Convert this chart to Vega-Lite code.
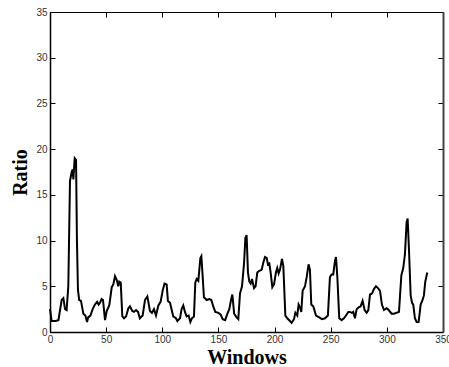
{
  "$schema": "https://vega.github.io/schema/vega-lite/v6.json",
  "width": 393,
  "height": 320,
  "autosize": "none",
  "padding": {"left": 50, "top": 12, "right": 6, "bottom": 35},
  "background": "white",
  "config": {
    "view": {"stroke": null},
    "axis": {
      "grid": false,
      "domainColor": "black",
      "domainWidth": 1.5,
      "tickColor": "black",
      "tickSize": -5,
      "labelFont": "Liberation Sans",
      "labelFontSize": 10,
      "labelColor": "#333",
      "titleFont": "Liberation Serif",
      "titleFontSize": 20,
      "titleFontWeight": "bold",
      "titleColor": "black"
    }
  },
  "data": {"values": [
    {"w":0,"r":2.5},{"w":1.5,"r":1.2},{"w":5,"r":1.2},{"w":7.5,"r":1.3},{"w":10.4,"r":3.5},{"w":11.9,"r":3.7},{"w":13.4,"r":2.5},{"w":14.8,"r":2.4},{"w":16.3,"r":5},{"w":17.8,"r":16.5},{"w":19.3,"r":17.5},{"w":20.2,"r":17.8},{"w":20.8,"r":16.7},{"w":22,"r":19.0},{"w":23.2,"r":18.8},{"w":24,"r":10},{"w":24.9,"r":4.6},{"w":26,"r":3.5},{"w":27.6,"r":3.4},
    {"w":29.7,"r":2.0},{"w":31.5,"r":1.8},{"w":33,"r":1.1},{"w":34,"r":1.6},{"w":36,"r":1.8},{"w":38,"r":2.5},{"w":40,"r":3.0},{"w":42,"r":3.3},{"w":43.3,"r":3.0},{"w":44.5,"r":3.2},{"w":46,"r":3.6},{"w":47.2,"r":3.5},{"w":49,"r":1.3},{"w":50.5,"r":2.3},{"w":52.8,"r":2.9},{"w":55,"r":4.9},{"w":56.4,"r":5.2},{"w":57.9,"r":6.1},{"w":59.4,"r":5.7},{"w":60.8,"r":5.0},{"w":61.7,"r":5.5},{"w":63,"r":5.4},{"w":64.4,"r":1.7},{"w":65.9,"r":1.5},{"w":67.7,"r":1.7},{"w":69.8,"r":2.6},{"w":71.2,"r":2.8},{"w":73.3,"r":2.3},{"w":74.8,"r":2.2},{"w":76.6,"r":2.4},{"w":78.4,"r":2.2},{"w":80,"r":1.5},{"w":82.5,"r":1.8},{"w":84.6,"r":3.5},{"w":86.7,"r":3.9},{"w":89,"r":2.3},{"w":90.8,"r":2.1},{"w":92.6,"r":2.5},{"w":94.4,"r":1.8},{"w":96.5,"r":2.9},{"w":98.5,"r":3.3},{"w":100.3,"r":4.5},{"w":102,"r":5.3},{"w":103.9,"r":5.2},{"w":105,"r":3.4},{"w":106.9,"r":3.2},{"w":108.6,"r":2.3},{"w":109.8,"r":1.7},{"w":112.2,"r":1.5},{"w":113.4,"r":1.2},{"w":115.8,"r":1.5},{"w":117.2,"r":2.5},{"w":118.7,"r":2.9},{"w":120.2,"r":2.2},{"w":121.7,"r":1.7},{"w":123.5,"r":1.8},{"w":125,"r":1.1},{"w":126.4,"r":1.5},{"w":128.2,"r":1.7},{"w":129.4,"r":5.4},{"w":130.6,"r":5.8},{"w":132.1,"r":5.6},{"w":133.9,"r":8.1},{"w":134.8,"r":8.3},{"w":136,"r":6.0},{"w":137.1,"r":3.8},{"w":139.5,"r":3.5},{"w":141.9,"r":3.6},{"w":143.7,"r":3.5},{"w":145.4,"r":2.8},{"w":147.2,"r":2.2},{"w":150,"r":2.1},{"w":152,"r":1.9},{"w":153.8,"r":1.4},{"w":156,"r":1.3},{"w":158,"r":2.0},{"w":159.7,"r":2.5},{"w":161.2,"r":3.5},{"w":162.4,"r":4.1},{"w":164,"r":2.0},{"w":166.2,"r":1.6},{"w":167.7,"r":1.4},{"w":169.2,"r":4.2},{"w":171,"r":5.0},{"w":172.8,"r":7.5},{"w":174,"r":10.3},{"w":175.1,"r":10.6},{"w":176.3,"r":6.5},{"w":177.5,"r":5.5},{"w":178.7,"r":5.3},{"w":179.9,"r":5.8},{"w":181.7,"r":4.8},{"w":183.1,"r":5.0},{"w":184.6,"r":6.5},{"w":186.4,"r":6.7},{"w":188.5,"r":6.8},{"w":190,"r":7.6},{"w":191.5,"r":8.2},{"w":193,"r":8.1},{"w":194.1,"r":7.4},{"w":195.3,"r":7.5},{"w":196.5,"r":6.5},{"w":198,"r":4.9},{"w":199.5,"r":5.2},{"w":201.2,"r":6.5},{"w":202.4,"r":7.0},{"w":203.6,"r":6.4},{"w":204.8,"r":6.8},{"w":206.6,"r":8.0},{"w":207.8,"r":7.2},{"w":209.6,"r":1.8},{"w":211.3,"r":1.5},{"w":213.7,"r":1.2},{"w":215.2,"r":1.0},{"w":217.3,"r":1.4},{"w":218.5,"r":2.1},{"w":220.2,"r":1.8},{"w":221.4,"r":3.0},{"w":222.6,"r":2.7},{"w":223.8,"r":2.2},{"w":225,"r":4.5},{"w":227.1,"r":5.0},{"w":228.6,"r":6.0},{"w":230.3,"r":7.4},{"w":231.5,"r":6.8},{"w":232.7,"r":3.0},{"w":234.5,"r":2.8},{"w":236.9,"r":1.8},{"w":239.8,"r":1.6},{"w":242.2,"r":1.4},{"w":244.9,"r":1.5},{"w":247.5,"r":1.8},{"w":249.3,"r":6.0},{"w":250.8,"r":6.3},{"w":252.3,"r":6.3},{"w":253.8,"r":7.8},{"w":254.7,"r":8.2},{"w":255.9,"r":6.0},{"w":257.6,"r":1.5},{"w":259.7,"r":1.3},{"w":261.8,"r":1.5},{"w":263.6,"r":1.8},{"w":265.7,"r":2.2},{"w":267.1,"r":2.2},{"w":268.9,"r":2.1},{"w":270.1,"r":2.2},{"w":271.6,"r":1.5},{"w":273.1,"r":2.5},{"w":274.9,"r":2.7},{"w":276.6,"r":2.8},{"w":278.4,"r":3.4},{"w":280.2,"r":2.4},{"w":282,"r":2.1},{"w":283.5,"r":2.4},{"w":285,"r":4.1},{"w":286.7,"r":4.2},{"w":288.5,"r":4.7},{"w":290.3,"r":5.0},{"w":292.1,"r":4.8},{"w":293.9,"r":4.5},{"w":295.6,"r":3.0},{"w":297.4,"r":2.4},{"w":299.8,"r":2.6},{"w":301.6,"r":2.4},{"w":304.2,"r":2.0},{"w":306.3,"r":2.0},{"w":308.7,"r":2.1},{"w":310.8,"r":2.2},{"w":312.9,"r":6.2},{"w":314.6,"r":7.0},{"w":316.1,"r":8.5},{"w":317.6,"r":12.0},{"w":318.5,"r":12.4},{"w":319.7,"r":9.0},{"w":321.2,"r":4.0},{"w":322.4,"r":3.2},{"w":323.5,"r":3.0},{"w":325,"r":1.5},{"w":326.5,"r":1.1},{"w":328.3,"r":1.1},{"w":330.1,"r":3.0},{"w":331.8,"r":3.5},{"w":333,"r":4.0},{"w":334.2,"r":5.5},{"w":336,"r":6.5}
  ]},
  "layer": [
    {
      "mark": {"type": "line", "color": "black", "strokeWidth": 2},
      "encoding": {
        "x": {"field": "w", "type": "quantitative", "scale": {"domain": [0, 350], "nice": false},
              "axis": {"orient": "bottom", "title": "Windows", "values": [0,50,100,150,200,250,300,350], "labelPadding": 7, "titlePadding": 3, "labelFlush": false}},
        "y": {"field": "r", "type": "quantitative", "scale": {"domain": [0, 35], "nice": false},
              "axis": {"orient": "left", "title": "Ratio", "values": [0,5,10,15,20,25,30,35], "labelPadding": 8, "titlePadding": 5}}
      }
    },
    {
      "mark": {"type": "line", "opacity": 0},
      "encoding": {
        "x": {"field": "w", "type": "quantitative", "scale": {"domain": [0, 350], "nice": false},
              "axis": {"orient": "top", "title": null, "labels": false, "values": [0,50,100,150,200,250,300,350], "domainWidth": 1}},
        "y": {"field": "r", "type": "quantitative", "scale": {"domain": [0, 35], "nice": false},
              "axis": {"orient": "right", "title": null, "labels": false, "values": [0,5,10,15,20,25,30,35], "domainColor": "#444", "domainWidth": 2}}
      }
    }
  ],
  "resolve": {"axis": {"x": "independent", "y": "independent"}}
}
